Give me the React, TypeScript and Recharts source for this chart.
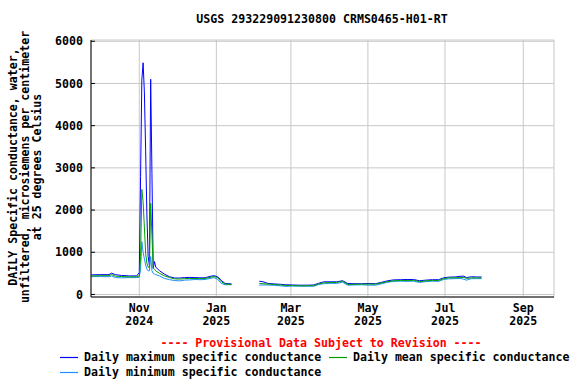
import { LineChart, Line, XAxis, YAxis, CartesianGrid } from "recharts";

const dates = [
  "2024-09-24", "2024-10-01", "2024-10-08", "2024-10-10", "2024-10-13", "2024-10-18", "2024-10-24", "2024-10-30",
  "2024-11-01", "2024-11-02", "2024-11-03", "2024-11-04", "2024-11-05", "2024-11-06", "2024-11-07",
  "2024-11-08", "2024-11-09", "2024-11-10", "2024-11-11", "2024-11-12", "2024-11-13", "2024-11-14",
  "2024-11-17", "2024-11-21", "2024-11-25", "2024-11-29", "2024-12-03", "2024-12-07", "2024-12-11", "2024-12-15",
  "2024-12-19", "2024-12-23", "2024-12-27", "2024-12-30", "2025-01-02", "2025-01-05", "2025-01-08", "2025-01-13",
  "2025-01-24",
  "2025-02-04", "2025-02-07", "2025-02-11", "2025-02-16", "2025-02-21", "2025-02-25",
  "2025-03-02", "2025-03-08", "2025-03-14", "2025-03-19", "2025-03-23", "2025-03-27",
  "2025-04-01", "2025-04-06", "2025-04-11", "2025-04-15", "2025-04-20", "2025-04-26",
  "2025-05-02", "2025-05-07", "2025-05-12", "2025-05-16", "2025-05-21", "2025-05-27",
  "2025-06-01", "2025-06-06", "2025-06-11", "2025-06-16", "2025-06-21", "2025-06-26", "2025-06-30",
  "2025-07-04", "2025-07-09", "2025-07-13", "2025-07-16", "2025-07-18", "2025-07-22", "2025-07-26", "2025-07-30",
];

const dailyMax = [
  465, 470, 470, 505, 470, 450, 440, 440,
  520, 2790, 5080, 5490, 4800, 3420, 1900, 900, 700, 5100, 2870, 620, 780, 650,
  560, 480, 420, 390, 390, 400, 405, 400, 395, 395, 430, 445, 420, 330, 260, 250,
  null,
  315, 300, 260, 250, 240, 230,
  225, 220, 220, 225, 265, 300,
  300, 300, 325, 260, 255, 255,
  260, 255, 290, 320, 345, 350,
  355, 355, 325, 340, 350, 350, 395,
  410, 415, 430, 434, 400, 420, 415, 415,
];

const dailyMean = [
  441, 445, 445, 474, 434, 425, 418, 418,
  440, 900, 2490, 2200, 1600, 980, 740, 650, 640, 2160, 1400, 620, 600, 560,
  500, 440, 400, 370, 365, 374, 379, 379, 375, 379, 405, 426, 400, 300, 245, 237,
  null,
  260, 255, 244, 237, 225, 215,
  210, 206, 206, 208, 250, 275,
  284, 284, 315, 237, 240, 244,
  244, 244, 275, 300, 325, 332,
  332, 335, 305, 325, 332, 332, 375,
  394, 394, 400, 405, 380, 394, 394, 394,
];

const dailyMin = [
  422, 425, 420, 440, 400, 395, 400, 400,
  410, 600, 1250, 1000, 850, 700, 600, 560, 560, 900, 560, 500, 480, 470,
  440, 380, 350, 330, 322, 340, 345, 355, 350, 355, 380, 400, 360, 260, 230, 230,
  null,
  220, 225, 225, 215, 205, 190,
  200, 195, 195, 195, 235, 255,
  265, 260, 290, 220, 225, 230,
  220, 220, 255, 285, 310, 315,
  310, 315, 285, 305, 315, 310, 355,
  370, 375, 380, 360, 339, 375, 375, 375,
];

const tickDates = ["2024-11-01", "2025-01-01", "2025-03-01", "2025-05-01", "2025-07-01", "2025-09-01"];
const tickMonths = ["Nov", "Jan", "Mar", "May", "Jul", "Sep"];
const tickYears = ["2024", "2025", "2025", "2025", "2025", "2025"];
const yTicks = [0, 1000, 2000, 3000, 4000, 5000, 6000];

const data = dates.map((d, i) => ({
  t: Date.parse(d),
  max: dailyMax[i],
  mean: dailyMean[i],
  min: dailyMin[i],
}));

const xTicks = tickDates.map((d) => Date.parse(d));
const xDomain = [Date.UTC(2024, 8, 23, 18), Date.UTC(2025, 8, 25, 8)];
const yDomain = [-60, 6030];

const FONT = "'DejaVu Sans Mono', monospace";
const FS = 11.6;

function MonthTick(props: any) {
  const { x, y, payload } = props;
  const i = xTicks.indexOf(payload.value);
  return (
    <text x={x} y={y} textAnchor="middle" fill="#000" fontFamily={FONT} fontSize={FS} fontWeight="bold">
      <tspan x={x} dy={7}>{tickMonths[i]}</tspan>
      <tspan x={x} dy={13}>{tickYears[i]}</tspan>
    </text>
  );
}

function YLabel() {
  const lines = [
    "DAILY Specific conductance, water,",
    "unfiltered, microsiemens per centimeter",
    "at 25 degrees Celsius",
  ];
  const xs = [16.5, 29, 41.3];
  return (
    <g>
      {lines.map((s, i) => (
        <text
          key={i}
          x={xs[i]}
          y={167}
          transform={`rotate(-90 ${xs[i]} 167)`}
          textAnchor="middle"
          fill="#000"
          fontFamily={FONT}
          fontSize={FS}
          fontWeight="bold"
        >
          {s}
        </text>
      ))}
    </g>
  );
}

const legendRows = [
  { label: "Daily maximum specific conductance", color: "#0000ff", x: 60, y: 357 },
  { label: "Daily mean specific conductance", color: "#00a000", x: 329, y: 357 },
  { label: "Daily minimum specific conductance", color: "#1e90ff", x: 60, y: 372 },
];

const textStyle = {
  position: "absolute" as const,
  whiteSpace: "nowrap" as const,
  fontFamily: FONT,
  fontSize: FS,
  fontWeight: "bold" as const,
  lineHeight: "14px",
  color: "#000",
};

export default function App() {
  return (
    <div style={{ position: "absolute", left: 0, top: 0, width: 576, height: 384, background: "#fff" }}>
      <LineChart width={576} height={384} data={data} margin={{ top: 40, right: 22, bottom: 57, left: 0 }}>
        <CartesianGrid stroke="#c8c8c8" strokeWidth={1} />
        <XAxis
          dataKey="t"
          type="number"
          domain={xDomain}
          ticks={xTicks}
          allowDataOverflow
          tickLine={false}
          axisLine={{ stroke: "#000" }}
          tick={<MonthTick />}
          height={30}
          interval={0}
        />
        <XAxis
          xAxisId="top"
          orientation="top"
          dataKey="t"
          type="number"
          domain={xDomain}
          allowDataOverflow
          tick={false}
          tickLine={false}
          axisLine={{ stroke: "#000" }}
          height={0}
        />
        <YAxis
          type="number"
          domain={yDomain}
          ticks={yTicks}
          allowDataOverflow
          width={91}
          tickSize={-4}
          tickMargin={12}
          tickLine={{ stroke: "#000" }}
          axisLine={{ stroke: "#000" }}
          tick={{ fill: "#000", fontFamily: FONT, fontSize: FS, fontWeight: "bold" }}
          interval={0}
          label={() => <YLabel />}
        />
        <YAxis
          yAxisId="right"
          orientation="right"
          type="number"
          domain={yDomain}
          allowDataOverflow
          tick={false}
          tickLine={false}
          axisLine={{ stroke: "#000" }}
          width={0}
        />
        <Line dataKey="max" stroke="#0000ff" strokeWidth={1} dot={false} isAnimationActive={false} />
        <Line dataKey="min" stroke="#1e90ff" strokeWidth={1} dot={false} isAnimationActive={false} />
        <Line dataKey="mean" stroke="#00a000" strokeWidth={1} dot={false} isAnimationActive={false} />
      </LineChart>
      <div style={{ ...textStyle, left: 322, top: 12, transform: "translateX(-50%)" }}>
        USGS 293229091230800 CRMS0465-H01-RT
      </div>
      <div style={{ ...textStyle, left: 321, top: 336, transform: "translateX(-50%)", color: "#ff0000" }}>
        ---- Provisional Data Subject to Revision ----
      </div>
      <svg width={576} height={384} style={{ position: "absolute", left: 0, top: 0, pointerEvents: "none" }}>
        {legendRows.map((r) => (
          <line
            key={r.label}
            x1={r.x}
            x2={r.x + 18}
            y1={r.y + 0.5}
            y2={r.y + 0.5}
            stroke={r.color}
            strokeWidth={1.2}
          />
        ))}
      </svg>
      {legendRows.map((r) => (
        <div key={r.label} style={{ ...textStyle, left: r.x + 24, top: r.y - 7 }}>
          {r.label}
        </div>
      ))}
    </div>
  );
}
